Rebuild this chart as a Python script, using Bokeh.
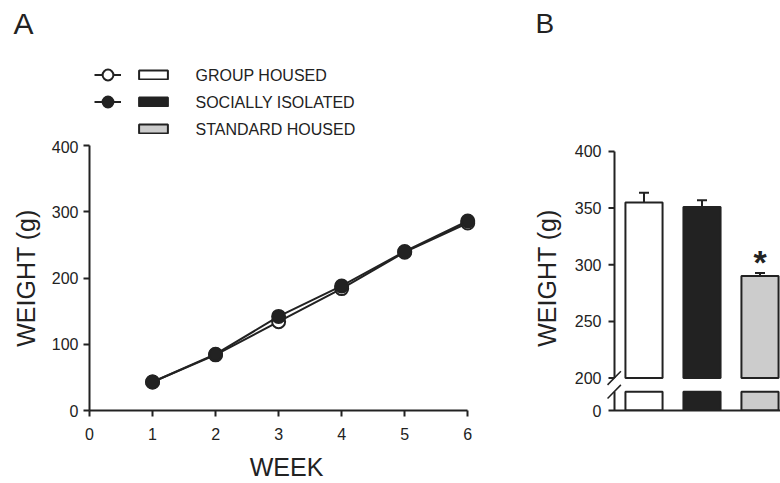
from bokeh.plotting import figure
from bokeh.models import (Range1d, FixedTicker, Legend, LegendItem, Label, Whisker,
                          TeeHead, ColumnDataSource)
from bokeh.layouts import row, column
from bokeh.core.properties import value
from bokeh.embed import file_html
from bokeh.resources import INLINE

# ---------------- data ----------------
WEEKS = [1, 2, 3, 4, 5, 6]
GROUP_WEEKLY = [43, 84, 134, 184, 239, 283]
ISOLATED_WEEKLY = [43, 85, 142, 188, 240, 286]

CONDITIONS = ["GROUP HOUSED", "SOCIALLY ISOLATED", "STANDARD HOUSED"]
FINAL_WEIGHT = [355, 351, 290]
FINAL_SEM = [8.5, 6, 2.8]
SIGNIFICANT = [False, False, True]

A_YTICKS = [0, 100, 200, 300, 400]
A_XTICKS = [0, 1, 2, 3, 4, 5, 6]
B_YTICKS = [200, 250, 300, 350, 400]

# ---------------- style ----------------
INK = "#222222"
BAR_COLORS = ["#ffffff", "#222222", "#cccccc"]
SERIES_FILL = ["#ffffff", "#222222"]
FONT = "Liberation Sans"

# broken axis in panel B: values >= BREAK_VALUE drawn to scale; 0 sits at ZERO_POS
BREAK_VALUE = 200
ZERO_POS = 171.4
STUB_TOP = 188

HEADER_H = 140


def style(p):
    p.grid.visible = False
    p.outline_line_color = None
    p.background_fill_color = "white"
    p.border_fill_color = "white"
    for ax in p.axis:
        ax.axis_line_color = INK
        ax.axis_line_width = 2
        ax.major_tick_line_color = INK
        ax.major_tick_line_width = 2
        ax.major_tick_out = 6
        ax.major_tick_in = 0
        ax.minor_tick_line_color = None
        ax.major_label_text_font = FONT
        ax.major_label_text_font_size = "16px"
        ax.major_label_text_color = INK
        ax.axis_label_text_font = FONT
        ax.axis_label_text_font_size = "25px"
        ax.axis_label_text_font_style = "normal"
        ax.axis_label_text_color = INK


# ---------------- header (panel letters + legend) ----------------
hd = figure(width=780, height=HEADER_H, output_backend="svg", toolbar_location=None,
            x_range=Range1d(0, 780), y_range=Range1d(HEADER_H, 0),
            x_axis_type=None, y_axis_type=None, min_border=0)
hd.outline_line_color = None

# hidden proxy renderers (carry the styles shown in the legend)
series_r = []
for ys, c in zip([GROUP_WEEKLY, ISOLATED_WEEKLY], SERIES_FILL):
    src = ColumnDataSource(dict(x=WEEKS, y=ys))
    rl = hd.line("x", "y", source=src, line_color=INK, line_width=2, visible=False)
    rs = hd.scatter("x", "y", source=src, marker="circle", fill_color=c,
                    line_color=INK, line_width=2, visible=False)
    series_r.append([rl, rs])
swatches = []
for i, c in enumerate(BAR_COLORS):
    src = ColumnDataSource(dict(x=[i + 1], top=[FINAL_WEIGHT[i]]))
    swatches.append(hd.vbar(x="x", top="top", width=1, source=src, fill_color=c,
                            line_color=INK, line_width=2, visible=False))

leg_common = dict(padding=0, margin=0, label_width=0, label_height=0, label_standoff=0,
                  label_text_font_size="1px", border_line_color=None,
                  background_fill_alpha=0, click_policy="none")
L1 = Legend(items=[LegendItem(label=" ", renderers=r) for r in series_r],
            location=(94, HEADER_H - 115), glyph_width=27, glyph_height=27, spacing=0,
            **leg_common)
L2 = Legend(items=[LegendItem(label=" ", renderers=[r]) for r in swatches],
            location=(135, HEADER_H - 134), glyph_width=36, glyph_height=11, spacing=16,
            **leg_common)
hd.add_layout(L1)
hd.add_layout(L2)

for i, name in enumerate(CONDITIONS):
    hd.add_layout(Label(x=195, y=74.5 + 27 * i, text=name, text_baseline="middle",
                        text_font=FONT, text_font_size="16px", text_color=INK))
hd.add_layout(Label(x=13, y=23, text="A", text_baseline="middle", text_font=FONT,
                    text_font_size="30px", text_color=INK))
hd.add_layout(Label(x=535, y=23, text="B", text_baseline="middle", text_font=FONT,
                    text_font_size="28px", text_color=INK))

# ---------------- panel A ----------------
pA = figure(width=520, height=483 - HEADER_H, output_backend="svg", toolbar_location=None,
            x_range=Range1d(0, 6.25), y_range=Range1d(0, 400),
            min_border_left=89, min_border_right=37, min_border_top=5,
            min_border_bottom=73)
style(pA)
pA.xaxis.ticker = FixedTicker(ticks=A_XTICKS)
pA.yaxis.ticker = FixedTicker(ticks=A_YTICKS)
pA.xaxis.bounds = (A_XTICKS[0], A_XTICKS[-1])
pA.xaxis.axis_label = "WEEK"
pA.yaxis.axis_label = "WEIGHT (g)"
pA.xaxis.major_label_standoff = 11
pA.yaxis.major_label_standoff = 5
pA.xaxis.axis_label_standoff = 10
pA.yaxis.axis_label_standoff = 9

for ys, c in zip([GROUP_WEEKLY, ISOLATED_WEEKLY], SERIES_FILL):
    pA.line(WEEKS, ys, line_color=INK, line_width=2)
    pA.scatter(WEEKS, ys, marker="circle", size=13, fill_color=c, line_color=INK,
               line_width=2)

# ---------------- panel B ----------------
pos = [i + 1 for i in range(len(CONDITIONS))]
X_START, X_END = 0.2845, 3.3535
AXIS_X = 0.4914
TICK = 0.1034

pB = figure(width=260, height=483 - HEADER_H, output_backend="svg", toolbar_location=None,
            x_range=Range1d(X_START, X_END), y_range=Range1d(ZERO_POS, 405.2),
            min_border_left=82, min_border_right=0, min_border_top=0,
            min_border_bottom=73)
style(pB)
pB.yaxis.ticker = FixedTicker(ticks=[ZERO_POS] + B_YTICKS)
pB.yaxis.major_label_overrides = {ZERO_POS: "0"}
pB.yaxis.axis_label = "WEIGHT (g)"
pB.yaxis.major_tick_out = 0
pB.yaxis.major_tick_line_color = None
pB.yaxis.major_label_standoff = 1
pB.yaxis.axis_label_standoff = 11
pB.yaxis.axis_line_color = None
pB.xaxis.major_tick_line_color = None
pB.xaxis.major_label_text_font_size = "0px"
pB.xaxis.ticker = FixedTicker(ticks=[])
pB.xaxis.bounds = (AXIS_X - TICK, X_END)

pB.vbar(x=pos, bottom=BREAK_VALUE, top=FINAL_WEIGHT, width=0.64, fill_color=BAR_COLORS,
        line_color=INK, line_width=2)
pB.vbar(x=pos, bottom=ZERO_POS, top=STUB_TOP, width=0.64, fill_color=BAR_COLORS,
        line_color=INK, line_width=2)

err_src = ColumnDataSource(dict(base=pos, lower=FINAL_WEIGHT,
                                upper=[w + e for w, e in zip(FINAL_WEIGHT, FINAL_SEM)]))
pB.add_layout(Whisker(base="base", lower="lower", upper="upper", source=err_src,
                      upper_head=TeeHead(size=10, line_color=INK, line_width=2),
                      lower_head=None, line_color=INK, line_width=2))

star_x = [p for p, s in zip(pos, SIGNIFICANT) if s]
star_y = [w + e for w, e, s in zip(FINAL_WEIGHT, FINAL_SEM, SIGNIFICANT) if s]
pB.text(x=star_x, y=star_y, text=["*"] * len(star_x), text_font=value(FONT),
        text_font_size="34px", text_font_style="bold", text_align="center",
        text_baseline="middle", y_offset=-11, text_color=INK)

# broken y axis: line pieces, ticks and break marks
pB.segment(x0=[AXIS_X, AXIS_X], y0=[BREAK_VALUE, ZERO_POS], x1=[AXIS_X, AXIS_X],
           y1=[B_YTICKS[-1], STUB_TOP], line_color=INK, line_width=2)
pB.segment(x0=AXIS_X - TICK, y0=B_YTICKS, x1=AXIS_X, y1=B_YTICKS, line_color=INK,
           line_width=2)
pB.segment(x0=AXIS_X - 0.12, y0=[BREAK_VALUE - 6, STUB_TOP - 6], x1=AXIS_X + 0.11,
           y1=[BREAK_VALUE + 6, STUB_TOP + 6], line_color=INK, line_width=1.5)

layout = column(hd, row(pA, pB))
open("out.html", "w").write(file_html(layout, INLINE))
